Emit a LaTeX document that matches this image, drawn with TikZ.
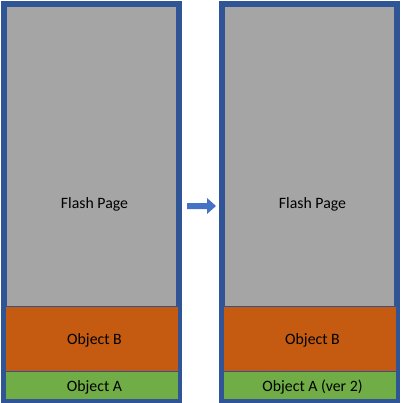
\documentclass[tikz,border=0pt]{standalone}
\usepackage{fontspec}
\setmainfont{Carlito}
\definecolor{frameblue}{HTML}{2F5597}
\definecolor{pagegray}{HTML}{A5A5A5}
\definecolor{objorange}{HTML}{C55A11}
\definecolor{objgreen}{HTML}{70AD47}
\definecolor{arrowblue}{HTML}{4472C4}
\begin{document}
\begin{tikzpicture}[x=1pt,y=-1pt,
  frame/.style={draw=frameblue, line width=6pt, fill=pagegray},
  objbox/.style={draw=frameblue, line width=0.8pt, inner sep=0pt, outer sep=0pt,
    minimum width=173pt, anchor=north west, text height=12.5pt, text depth=0pt,
    font=\fontsize{15.8}{19}\selectfont},
  pagelabel/.style={anchor=base, font=\fontsize{15.8}{19}\selectfont}]
  \useasboundingbox (0,0) rectangle (401,403);
  %frames
  \draw[frame] (4,4) rectangle (179,400);
  \draw[frame] (222,4) rectangle (397,400);
  %objects, old page
  \node[objbox, fill=objorange, minimum height=65pt] (oldB) at (5,306) {\hspace*{6pt}Object B};
  \node[objbox, fill=objgreen, minimum height=28pt] (oldA) at (5,371) {\hspace*{6pt}Object A};
  %objects, new page
  \node[objbox, fill=objorange, minimum height=65pt] (newB) at (223,306) {\hspace*{6pt}Object B};
  \node[objbox, fill=objgreen, minimum height=28pt] (newA) at (223,371) {\hspace*{6pt}Object A (ver 2)};
  %labels
  \node[pagelabel] (oldpage) at (94.5,208) {Flash Page};
  \node[pagelabel] (newpage) at (312.5,208) {Flash Page};
  %arrow
  \fill[arrowblue] (187,203) -- (207,203) -- (207,198) -- (216,206)
    -- (207,214) -- (207,209) -- (187,209) -- cycle;
\end{tikzpicture}
\end{document}
